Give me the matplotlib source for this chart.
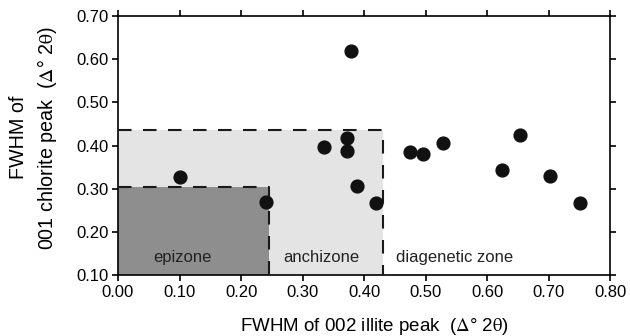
import matplotlib.pyplot as plt

plt.rcParams['font.family'] = ['Liberation Sans', 'DejaVu Sans']
plt.rcParams['mathtext.fontset'] = 'stix'

# FWHM values
illite = [0.10, 0.24, 0.335, 0.372, 0.372, 0.378, 0.389, 0.419,
          0.475, 0.495, 0.528, 0.624, 0.653, 0.701, 0.750]
chlorite = [0.328, 0.269, 0.397, 0.417, 0.388, 0.619, 0.306, 0.268,
            0.386, 0.380, 0.405, 0.343, 0.425, 0.330, 0.268]

# zone limits (illite, chlorite)
epi_x, epi_y = 0.245, 0.305
anchi_x, anchi_y = 0.43, 0.435
zone_names = ["epizone", "anchizone", "diagenetic zone"]
zone_label_x = [0.105, 0.33, 0.452]

xticks = [0.0, 0.1, 0.2, 0.3, 0.4, 0.5, 0.6, 0.7, 0.8]
yticks = [0.1, 0.2, 0.3, 0.4, 0.5, 0.6, 0.7]

fig = plt.figure(figsize=(6.3, 3.36), dpi=100)
ax = fig.add_axes([0.1873, 0.1815, 0.7817, 0.7705])

ax.fill_between([0, anchi_x], 0.1, anchi_y, color='#e4e4e4', lw=0, zorder=1)
ax.fill_between([0, epi_x], 0.1, epi_y, color='#8e8e8e', lw=0, zorder=2)

dash = dict(color='#1a1a1a', lw=1.5, dashes=(6.5, 5.5), zorder=3)
ax.plot([0, anchi_x, anchi_x], [anchi_y, anchi_y, 0.1], **dash)
ax.plot([0, epi_x, epi_x], [epi_y, epi_y, 0.1], **dash)

ax.scatter(illite, chlorite, s=85, color='#111111', zorder=4, clip_on=False)

tkw = dict(va='center', fontsize=12, color='#222222')
ax.text(zone_label_x[0], 0.14, zone_names[0], ha='center', **tkw)
ax.text(zone_label_x[1], 0.14, zone_names[1], ha='center', **tkw)
ax.text(zone_label_x[2], 0.14, zone_names[2], ha='left', **tkw)

ax.set_xlim(0, 0.8)
ax.set_ylim(0.1, 0.7)
ax.set_xticks(xticks)
ax.set_yticks(yticks)
ax.set_xticklabels([f"{v:.2f}" for v in xticks])
ax.set_yticklabels([f"{v:.2f}" for v in yticks])
ax.tick_params(direction='out', length=4, width=1.2, labelsize=12, pad=3,
               top=True, right=True, labeltop=False, labelright=False)
for s in ax.spines.values():
    s.set_linewidth(1.2)

ax.set_xlabel(r"FWHM of 002 illite peak  ($\Delta$° 2$\mathrm{\theta}$)", fontsize=13.5)
ax.set_ylabel("FWHM of\n" + r"001 chlorite peak  ($\Delta$° 2$\mathrm{\theta}$)", fontsize=14.2,
              linespacing=1.4)
ax.xaxis.set_label_coords(0.52, -0.16)
ax.yaxis.set_label_coords(-0.12, 0.53)

plt.savefig("out.png", dpi=100)
